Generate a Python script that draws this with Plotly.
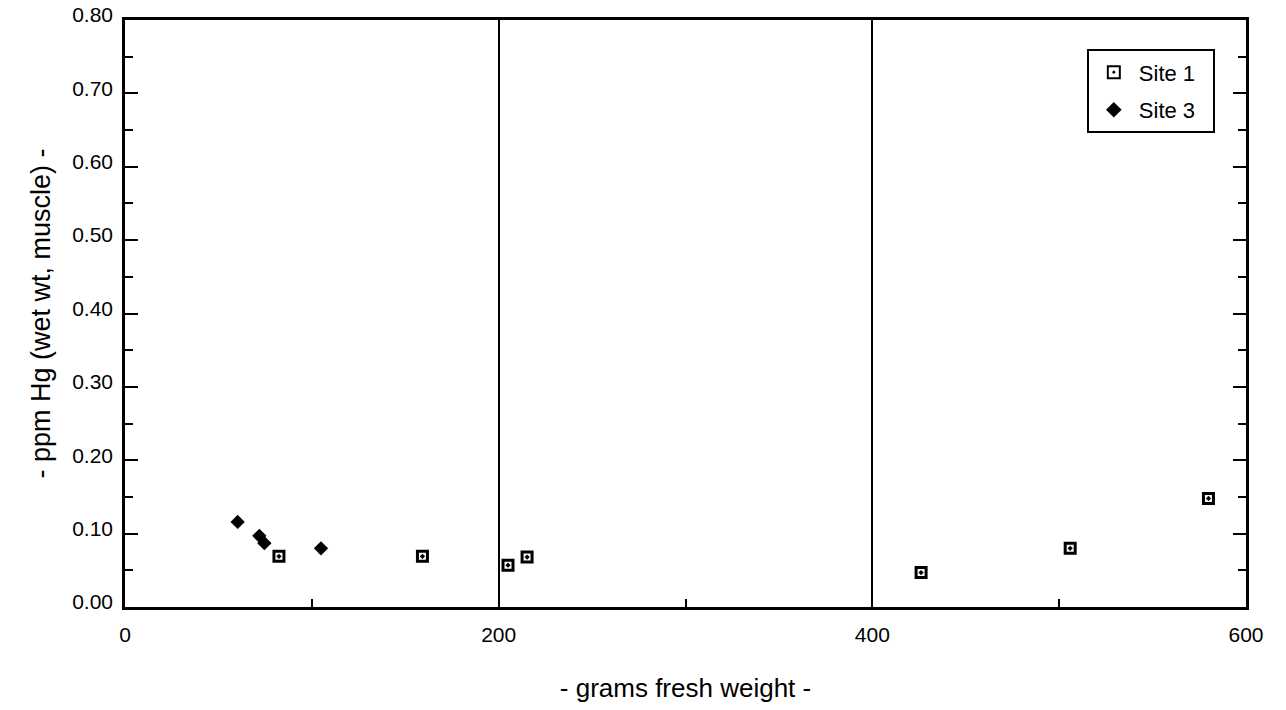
import plotly.graph_objects as go

site1_x = [82.4, 159.2, 205.0, 215.2, 426.1, 505.9, 579.9]
site1_y = [0.069, 0.069, 0.057, 0.068, 0.047, 0.080, 0.148]
site3_x = [60.3, 71.9, 74.6, 104.9]
site3_y = [0.116, 0.097, 0.087, 0.080]

x_ticks = [0, 200, 400, 600]
y_ticks = [0.0, 0.1, 0.2, 0.3, 0.4, 0.5, 0.6, 0.7, 0.8]
y_labels = ["0.00", "0.10", "0.20", "0.30", "0.40", "0.50", "0.60", "0.70", "0.80"]

FONT = "Liberation Sans, Arial, sans-serif"

fig = go.Figure()
fig.add_trace(go.Scatter(
    x=site1_x, y=site1_y, mode="markers", name="Site 1\u00a0\u00a0", legendgroup="g1",
    marker=dict(symbol="square-open-dot", size=10, color="black",
                line=dict(width=3, color="black")),
))
fig.add_trace(go.Scatter(
    x=site3_x, y=site3_y, mode="markers", name="Site 3\u00a0\u00a0", legendgroup="g3",
    marker=dict(symbol="diamond", size=11, color="black"),
))

fig.update_layout(
    width=1286, height=710,
    margin=dict(l=125, r=40, t=20, b=103, autoexpand=False),
    paper_bgcolor="white", plot_bgcolor="white",
    font=dict(family=FONT, size=21, color="black"),
    showlegend=True,
    legend=dict(
        x=0.858, y=0.95, xanchor="left", yanchor="top",
        bgcolor="white", bordercolor="black", borderwidth=2,
        font=dict(size=22, family=FONT), itemsizing="constant",
        tracegroupgap=6, itemwidth=40,
    ),
)

fig.update_xaxes(
    range=[0, 600], tickvals=x_ticks, ticktext=[str(v) for v in x_ticks],
    showline=True, linecolor="black", linewidth=2.5, mirror=True,
    showgrid=True, gridcolor="black", gridwidth=2, automargin=False,
    ticks="", zeroline=False, ticklabelstandoff=7,
    minor=dict(tickvals=[100, 300, 500], ticks="inside", ticklen=8,
               tickwidth=2, tickcolor="black", showgrid=False),
    tickfont=dict(size=21),
    title=dict(text="- grams fresh weight -", font=dict(size=26), standoff=34),
)
fig.update_yaxes(
    range=[0, 0.8], tickvals=y_ticks, ticktext=y_labels,
    showline=True, linecolor="black", linewidth=2.5, mirror="ticks",
    showgrid=False, zeroline=False, automargin=False,
    ticks="inside", ticklen=13, tickwidth=2, tickcolor="black",
    ticklabelstandoff=5, ticklabelshift=-5,
    minor=dict(dtick=0.05, ticks="inside", ticklen=8, tickwidth=2,
               tickcolor="black", showgrid=False),
    tickfont=dict(size=21),
    title=dict(text="- ppm Hg (wet wt, muscle) -", font=dict(size=27), standoff=14),
)

fig.write_html("out.html")
